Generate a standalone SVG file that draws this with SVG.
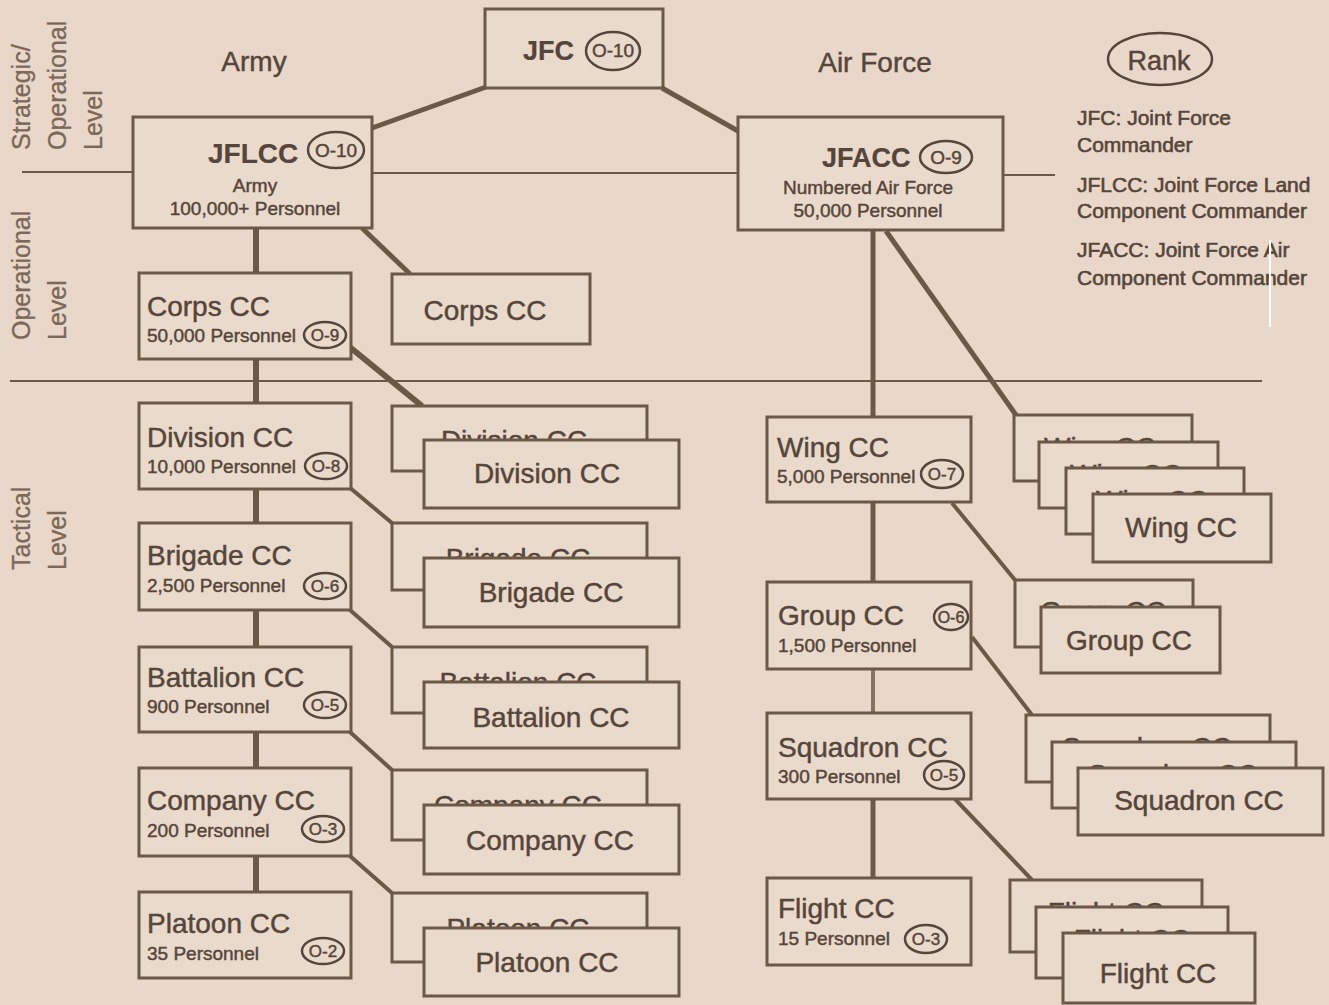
<svg xmlns="http://www.w3.org/2000/svg" width="1329" height="1005" viewBox="0 0 1329 1005">
<style>
.bg{fill:#e9d8c9}
.box{fill:#eadacb;stroke:#6b5847;stroke-width:3}
text{font-family:"Liberation Sans",Arial,Helvetica,sans-serif;fill:#56453a;stroke:#56453a;stroke-width:0.45}
.ti{font-size:28px}
.sm{font-size:19px}
.b{font-weight:bold;stroke-width:0.2}
.m{text-anchor:middle}
.ov{fill:none;stroke:#56453a;stroke-width:2.5}
.ot{font-size:17px;text-anchor:middle}
.lg{font-size:21px;stroke-width:0.6}
.lv{font-size:25px;fill:#7a6858;stroke:#7a6858;stroke-width:0.3}
.c{stroke:#6b5847;fill:none;stroke-linecap:butt}
.w6{stroke-width:6}
.w5{stroke-width:5}
.w4{stroke-width:4}
.lvl{stroke:#6b5847;stroke-width:2}
</style>
<rect class="bg" x="0" y="0" width="1329" height="1005"/>

<g id="levels">
<line class="lvl" x1="22" y1="172" x2="133" y2="172"/>
<line class="lvl" x1="372" y1="173" x2="738" y2="173"/>
<line class="lvl" x1="1003" y1="175" x2="1055" y2="175"/>
<line class="lvl" x1="10" y1="381" x2="1262" y2="381"/>
<text class="lv" transform="translate(30,150) rotate(-90)">Strategic/</text>
<text class="lv" transform="translate(66,150) rotate(-90)">Operational</text>
<text class="lv" transform="translate(102,150) rotate(-90)">Level</text>
<text class="lv" transform="translate(30,340) rotate(-90)">Operational</text>
<text class="lv" transform="translate(66,340) rotate(-90)">Level</text>
<text class="lv" transform="translate(30,570) rotate(-90)">Tactical</text>
<text class="lv" transform="translate(66,570) rotate(-90)">Level</text>
</g>

<g id="headers">
<text class="ti m" x="254" y="71">Army</text>
<text class="ti m" x="875" y="72">Air Force</text>
</g>

<g id="legend">
<ellipse class="ov" cx="1160" cy="59" rx="52" ry="26"/>
<text class="m" x="1159" y="70" style="font-size:27px">Rank</text>
<text class="lg" x="1077" y="125">JFC: Joint Force</text>
<text class="lg" x="1077" y="152">Commander</text>
<text class="lg" x="1077" y="192">JFLCC: Joint Force Land</text>
<text class="lg" x="1077" y="218">Component Commander</text>
<text class="lg" x="1077" y="257">JFACC: Joint Force Air</text>
<text class="lg" x="1077" y="285">Component Commander</text>
</g>
<line x1="1270" y1="240" x2="1270" y2="327" stroke="#ffffff" stroke-width="2"/>

<g id="connectors">
<line class="c w5" x1="372" y1="128" x2="486" y2="87"/>
<line class="c w5" x1="662" y1="88" x2="738" y2="131"/>
<line class="c w6" x1="256" y1="228" x2="256" y2="273"/>
<line class="c w5" x1="362" y1="228" x2="410" y2="274"/>
<line class="c w6" x1="256" y1="359" x2="256" y2="403"/>
<line class="c w6" x1="346" y1="344" x2="422" y2="406"/>
<line class="c w6" x1="256" y1="489" x2="256" y2="523"/>
<line class="c w4" x1="349" y1="487" x2="392" y2="523"/>
<line class="c w6" x1="256" y1="610" x2="256" y2="647"/>
<line class="c w4" x1="350" y1="610" x2="392" y2="647"/>
<line class="c w6" x1="256" y1="732" x2="256" y2="768"/>
<line class="c w4" x1="350" y1="732" x2="392" y2="770"/>
<line class="c w6" x1="256" y1="856" x2="256" y2="892"/>
<line class="c w4" x1="350" y1="856" x2="392" y2="893"/>
<line class="c w5" x1="873" y1="230" x2="873" y2="417"/>
<line class="c w5" x1="886" y1="231" x2="1016" y2="415"/>
<line class="c w5" x1="873" y1="502" x2="873" y2="582"/>
<line class="c w4" x1="952" y1="503" x2="1015" y2="580"/>
<line class="c w4" x1="873" y1="669" x2="873" y2="713" style="stroke:#857362"/>
<line class="c w4" x1="972" y1="637" x2="1032" y2="715"/>
<line class="c w5" x1="873" y1="799" x2="873" y2="878"/>
<line class="c w4" x1="955" y1="799" x2="1032" y2="880"/>
</g>

<g id="jfc">
<rect class="box" x="485" y="9" width="178" height="79"/>
<text class="b" x="523" y="60" style="font-size:27px">JFC</text>
<ellipse class="ov" cx="613" cy="51" rx="27" ry="19"/>
<text class="ot" x="613" y="57" style="font-size:19px">O-10</text>
</g>

<g id="jflcc">
<rect class="box" x="133" y="117" width="239" height="111"/>
<text class="ti b" x="208" y="163">JFLCC</text>
<ellipse class="ov" cx="336" cy="150" rx="28" ry="18"/>
<text class="ot" x="336" y="157" style="font-size:19px">O-10</text>
<text class="sm m" x="255" y="192">Army</text>
<text class="sm m" x="255" y="215">100,000+ Personnel</text>
</g>

<g id="jfacc">
<rect class="box" x="738" y="117" width="265" height="113"/>
<text class="b" x="822" y="167" style="font-size:27px">JFACC</text>
<ellipse class="ov" cx="946" cy="157" rx="26" ry="16"/>
<text class="ot" x="946" y="164" style="font-size:19px">O-9</text>
<text class="sm m" x="868" y="194">Numbered Air Force</text>
<text class="sm m" x="868" y="217">50,000 Personnel</text>
</g>

<g id="corps">
<rect class="box" x="139" y="273" width="212" height="86"/>
<text class="ti" x="147" y="316">Corps CC</text>
<text class="sm" x="147" y="342">50,000 Personnel</text>
<ellipse class="ov" cx="325" cy="335" rx="21" ry="13"/>
<text class="ot" x="325" y="341">O-9</text>
</g>
<g id="corps2">
<rect class="box" x="392" y="274" width="198" height="70"/>
<text class="ti m" x="485" y="320">Corps CC</text>
</g>

<g id="division">
<rect class="box" x="139" y="403" width="212" height="86"/>
<text class="ti" x="147" y="447">Division CC</text>
<text class="sm" x="147" y="473">10,000 Personnel</text>
<ellipse class="ov" cx="326" cy="466" rx="21" ry="13"/>
<text class="ot" x="326" y="472">O-8</text>
</g>
<g id="division-stack">
<rect class="box" x="392" y="406" width="255" height="65"/>
<text class="ti m" x="514" y="450">Division CC</text>
<rect class="box" x="424" y="440" width="255" height="68"/>
<text class="ti m" x="547" y="483">Division CC</text>
</g>

<g id="brigade">
<rect class="box" x="139" y="523" width="212" height="87"/>
<text class="ti" x="147" y="565">Brigade CC</text>
<text class="sm" x="147" y="592">2,500 Personnel</text>
<ellipse class="ov" cx="325" cy="586" rx="21" ry="13"/>
<text class="ot" x="325" y="592">O-6</text>
</g>
<g id="brigade-stack">
<rect class="box" x="392" y="523" width="255" height="67"/>
<text class="ti m" x="518" y="568">Brigade CC</text>
<rect class="box" x="424" y="558" width="255" height="69"/>
<text class="ti m" x="551" y="602">Brigade CC</text>
</g>

<g id="battalion">
<rect class="box" x="139" y="647" width="212" height="85"/>
<text class="ti" x="147" y="687">Battalion CC</text>
<text class="sm" x="147" y="713">900 Personnel</text>
<ellipse class="ov" cx="325" cy="705" rx="21" ry="13"/>
<text class="ot" x="325" y="711">O-5</text>
</g>
<g id="battalion-stack">
<rect class="box" x="392" y="647" width="255" height="66"/>
<text class="ti m" x="518" y="692">Battalion CC</text>
<rect class="box" x="424" y="682" width="255" height="66"/>
<text class="ti m" x="551" y="727">Battalion CC</text>
</g>

<g id="company">
<rect class="box" x="139" y="768" width="212" height="88"/>
<text class="ti" x="147" y="810">Company CC</text>
<text class="sm" x="147" y="837">200 Personnel</text>
<ellipse class="ov" cx="323" cy="829" rx="21" ry="13"/>
<text class="ot" x="323" y="835">O-3</text>
</g>
<g id="company-stack">
<rect class="box" x="392" y="770" width="255" height="70"/>
<text class="ti m" x="518" y="815">Company CC</text>
<rect class="box" x="424" y="805" width="255" height="69"/>
<text class="ti m" x="550" y="850">Company CC</text>
</g>

<g id="platoon">
<rect class="box" x="139" y="892" width="212" height="86"/>
<text class="ti" x="147" y="933">Platoon CC</text>
<text class="sm" x="147" y="960">35 Personnel</text>
<ellipse class="ov" cx="323" cy="951" rx="21" ry="13"/>
<text class="ot" x="323" y="957">O-2</text>
</g>
<g id="platoon-stack">
<rect class="box" x="392" y="893" width="255" height="69"/>
<text class="ti m" x="518" y="938">Platoon CC</text>
<rect class="box" x="424" y="928" width="255" height="68"/>
<text class="ti m" x="547" y="972">Platoon CC</text>
</g>

<g id="wing">
<rect class="box" x="767" y="417" width="204" height="85"/>
<text class="ti" x="777" y="457">Wing CC</text>
<text class="sm" x="777" y="483">5,000 Personnel</text>
<ellipse class="ov" cx="942" cy="474" rx="21" ry="14"/>
<text class="ot" x="942" y="480">O-7</text>
</g>
<g id="wing-stack">
<rect class="box" x="1014" y="415" width="178" height="66"/>
<text class="ti m" x="1100" y="457">Wing CC</text>
<rect class="box" x="1039" y="442" width="179" height="66"/>
<text class="ti m" x="1126" y="484">Wing CC</text>
<rect class="box" x="1066" y="468" width="178" height="66"/>
<text class="ti m" x="1152" y="510">Wing CC</text>
<rect class="box" x="1093" y="494" width="178" height="68"/>
<text class="ti m" x="1181" y="537">Wing CC</text>
</g>

<g id="group">
<rect class="box" x="767" y="582" width="204" height="87"/>
<text class="ti" x="778" y="625">Group CC</text>
<ellipse class="ov" cx="951" cy="617" rx="17" ry="13"/>
<text class="ot" x="951" y="623" style="font-size:16px">O-6</text>
<text class="sm" x="778" y="652">1,500 Personnel</text>
</g>
<g id="group-stack">
<rect class="box" x="1015" y="580" width="178" height="67"/>
<text class="ti m" x="1103" y="621">Group CC</text>
<rect class="box" x="1041" y="607" width="179" height="66"/>
<text class="ti m" x="1129" y="650">Group CC</text>
</g>

<g id="squadron">
<rect class="box" x="767" y="713" width="204" height="86"/>
<text class="ti" x="778" y="757">Squadron CC</text>
<text class="sm" x="778" y="783">300 Personnel</text>
<ellipse class="ov" cx="944" cy="775" rx="20" ry="14"/>
<text class="ot" x="944" y="781">O-5</text>
</g>
<g id="squadron-stack">
<rect class="box" x="1026" y="715" width="244" height="67"/>
<text class="ti m" x="1147" y="757">Squadron CC</text>
<rect class="box" x="1052" y="742" width="244" height="66"/>
<text class="ti m" x="1173" y="784">Squadron CC</text>
<rect class="box" x="1078" y="768" width="245" height="67"/>
<text class="ti m" x="1199" y="810">Squadron CC</text>
</g>

<g id="flight">
<rect class="box" x="767" y="878" width="204" height="87"/>
<text class="ti" x="778" y="918">Flight CC</text>
<text class="sm" x="778" y="945">15 Personnel</text>
<ellipse class="ov" cx="926" cy="939" rx="21" ry="14"/>
<text class="ot" x="926" y="945">O-3</text>
</g>
<g id="flight-stack">
<rect class="box" x="1010" y="880" width="192" height="72"/>
<text class="ti m" x="1106" y="922">Flight CC</text>
<rect class="box" x="1036" y="907" width="192" height="71"/>
<text class="ti m" x="1132" y="949">Flight CC</text>
<rect class="box" x="1063" y="933" width="192" height="70"/>
<text class="ti m" x="1158" y="983">Flight CC</text>
</g>
</svg>
